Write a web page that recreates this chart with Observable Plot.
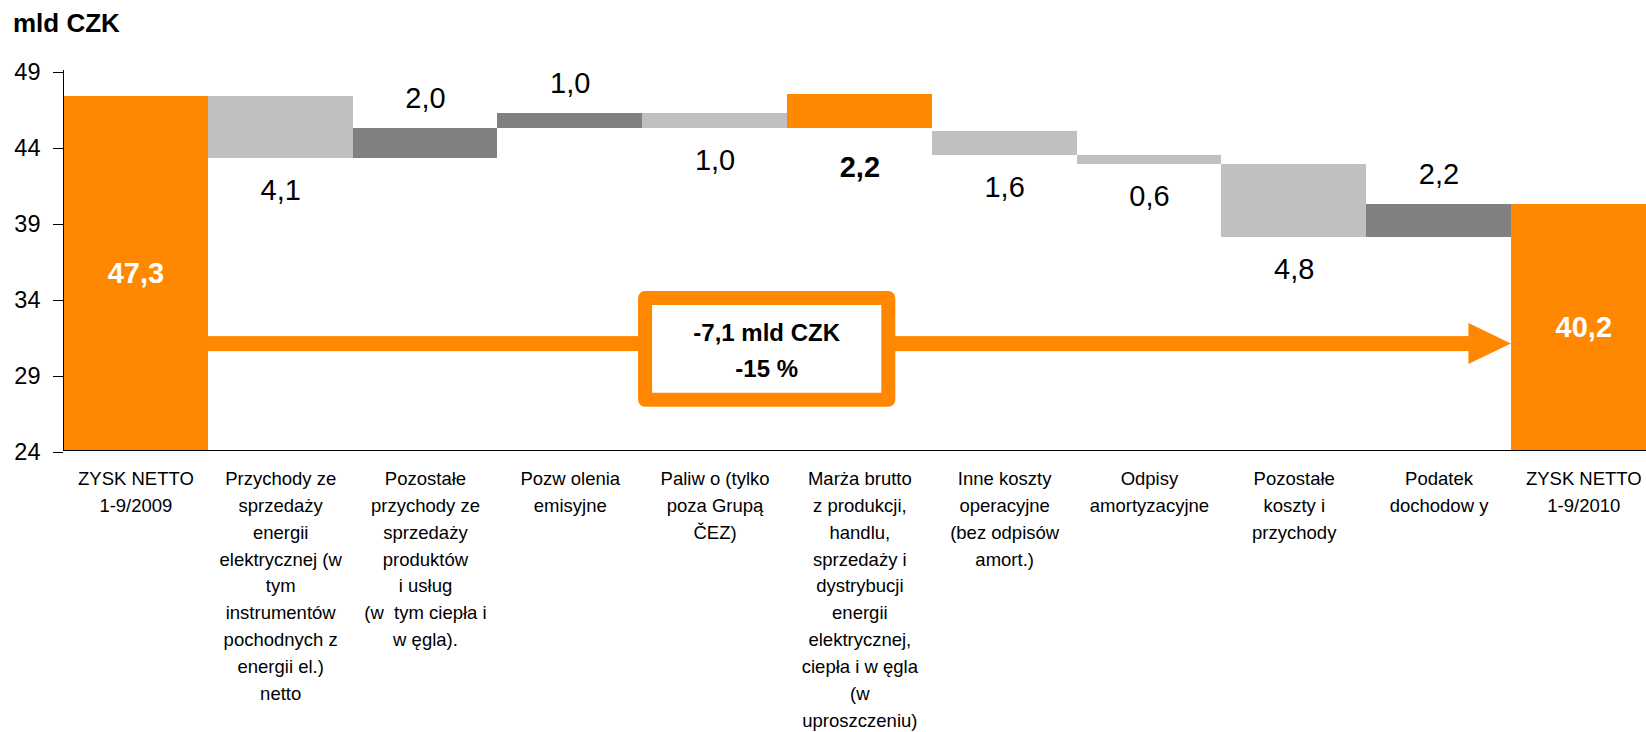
<!DOCTYPE html>
<html>
<head>
<meta charset="utf-8">
<script src="https://cdn.jsdelivr.net/npm/d3@7"></script>
<script src="https://cdn.jsdelivr.net/npm/@observablehq/plot@0.6"></script>
<style>
  html, body { margin: 0; padding: 0; background: #fff; overflow: hidden; }
  #title {
    box-sizing: border-box;
    height: 44px;
    padding: 10px 0 0 13px;
    font: bold 26px/26px "Liberation Sans", Arial, sans-serif;
    color: #000;
  }
</style>
</head>
<body>
<div id="title">mld CZK</div>
<div id="chart"></div>
<script>
// Bridge of net profit, 1-9/2009 to 1-9/2010 (mld CZK)
const categories = [
  "ZYSK NETTO\n1-9/2009",
  "Przychody ze\nsprzedaży\nenergii\nelektrycznej (w\ntym\ninstrumentów\npochodnych z\nenergii el.)\nnetto",
  "Pozostałe\nprzychody ze\nsprzedaży\nproduktów\ni usług\n(w  tym ciepła i\nw ęgla).",
  "Pozw olenia\nemisyjne",
  "Paliw o (tylko\npoza Grupą\nČEZ)",
  "Marża brutto\nz produkcji,\nhandlu,\nsprzedaży i\ndystrybucji\nenergii\nelektrycznej,\nciepła i w ęgla\n(w\nuproszczeniu)",
  "Inne koszty\noperacyjne\n(bez odpisów\namort.)",
  "Odpisy\namortyzacyjne",
  "Pozostałe\nkoszty i\nprzychody",
  "Podatek\ndochodow y",
  "ZYSK NETTO\n1-9/2010"
];
const amounts = [47.3, 4.1, 2.0, 1.0, 1.0, 2.2, 1.6, 0.6, 4.8, 2.2, 40.2];
const kinds = ["total", "down", "up", "up", "down", "margin", "down", "down", "down", "up", "total"];
const yTicks = [24, 29, 34, 39, 44, 49];
const changeText = ["-7,1 mld CZK", "-15 %"];

const ORANGE = "#FF8800";
const DARK = "#808080";
const LIGHT = "#C0C0C0";
const FONT = "Liberation Sans, Arial, sans-serif";
const yDomain = [24, 49];
const arrowLevel = 31.0;
const boxTop = 34.0, boxBottom = 27.3;

const fmt = v => d3.format(".1f")(v).replace(".", ",");

// Waterfall levels: items up to the gross-margin subtotal hang from the opening
// profit, the items after it are chained back from the closing profit.
const rows = categories.map((category, i) => ({category, amount: amounts[i], kind: kinds[i], lo: 0, hi: 0}));
const m = kinds.indexOf("margin");
const last = rows.length - 1;
let level = amounts[0];
rows[0].hi = amounts[0];
for (let i = 1; i <= m; i++) {
  const r = rows[i];
  if (r.kind === "down") { r.hi = level; r.lo = level - r.amount; level = r.lo; }
  else { r.lo = level; r.hi = level + r.amount; if (r.kind === "up") level = r.hi; }
}
rows[last].hi = amounts[last];
level = amounts[last];
for (let i = last - 1; i > m; i--) {
  const r = rows[i];
  if (r.kind === "up") { r.hi = level; r.lo = level - r.amount; level = r.lo; }
  else { r.lo = level; r.hi = level + r.amount; level = r.hi; }
}

// Orange arrow across the chart with the total change in a framed box
function changeMarker(index, scales) {
  const x = scales.x, y = scales.y;
  const bw = typeof x.bandwidth === "function" ? x.bandwidth() : x.bandwidth;
  const left = x(categories[0]);
  const at = t => left + t * bw;
  const xStart = left + bw;
  const xEnd = x(categories[last]);
  const yA = y(arrowLevel);
  const g = d3.create("svg:g");
  g.append("rect")
    .attr("x", xStart).attr("y", yA - 7.5)
    .attr("width", xEnd - 42 - xStart).attr("height", 15)
    .attr("fill", ORANGE);
  g.append("path")
    .attr("d", `M${xEnd - 42.5},${yA - 20.5}L${xEnd},${yA}L${xEnd - 42.5},${yA + 20.5}Z`)
    .attr("fill", ORANGE);
  const bx0 = at(4.02), bx1 = at(5.70), by0 = y(boxTop), by1 = y(boxBottom);
  g.append("rect")
    .attr("x", bx0).attr("y", by0)
    .attr("width", bx1 - bx0).attr("height", by1 - by0)
    .attr("fill", "white").attr("stroke", ORANGE)
    .attr("stroke-width", 14).attr("stroke-linejoin", "round");
  const cx = (bx0 + bx1) / 2, cy = (by0 + by1) / 2;
  [[changeText[0], cy - 7.75], [changeText[1], cy + 28.25]].forEach(([t, ty]) => {
    g.append("text")
      .attr("x", cx).attr("y", ty)
      .attr("text-anchor", "middle")
      .attr("font-family", FONT).attr("font-weight", "bold").attr("font-size", 24)
      .attr("fill", "black")
      .text(t);
  });
  return g.node();
}

const chart = Plot.plot({
  width: 1646,
  height: 688,
  marginTop: 26,
  marginBottom: 282,
  marginLeft: 63,
  marginRight: 0,
  style: {fontFamily: FONT, color: "black", background: "white", overflow: "hidden"},
  x: {domain: categories, range: [63, 1655.7], padding: 0, round: false, axis: null},
  y: {domain: yDomain},
  color: {domain: ["total", "margin", "up", "down"], range: [ORANGE, ORANGE, DARK, LIGHT]},
  marks: [
    Plot.barY(rows, {x: "category", y1: d => d.kind === "total" ? 0 : d.lo, y2: "hi", fill: "kind", clip: true, shapeRendering: "crispEdges"}),
    Plot.ruleY([yDomain[0]], {stroke: "black", strokeWidth: 1}),
    Plot.frame({anchor: "left", stroke: "black"}),
    Plot.axisY({ticks: yTicks, tickSize: 10, tickPadding: 13, fontSize: 23.5, dy: 2, label: null, tickFormat: d => String(d)}),
    changeMarker,
    // opening and closing profit inside their bars
    Plot.text(rows.filter(d => d.kind === "total"), {
      x: "category", y: d => (yDomain[0] + d.hi) / 2, text: d => fmt(d.amount),
      fill: "white", fontWeight: "bold", fontSize: 29
    }),
    // increases: value above the bar
    Plot.text(rows.filter(d => d.kind === "up"), {
      x: "category", y: "hi", text: d => fmt(d.amount),
      lineAnchor: "bottom", dy: -20, fontSize: 29, fill: "black"
    }),
    // decreases: value below the bar
    Plot.text(rows.filter(d => d.kind === "down"), {
      x: "category", y: "lo", text: d => fmt(d.amount),
      lineAnchor: "top", dy: 21, fontSize: 29, fill: "black"
    }),
    // gross margin subtotal
    Plot.text(rows.filter(d => d.kind === "margin"), {
      x: "category", y: "lo", text: d => fmt(d.amount),
      lineAnchor: "top", dy: 28, fontSize: 29, fontWeight: "bold", fill: "black"
    }),
    // category names under the baseline
    Plot.text(rows, {
      x: "category", text: "category", frameAnchor: "bottom",
      lineAnchor: "top", dy: 15.2, fontSize: 18.5, lineHeight: 1.455, fill: "black"
    })
  ]
});

document.getElementById("chart").appendChild(chart);
</script>
</body>
</html>
